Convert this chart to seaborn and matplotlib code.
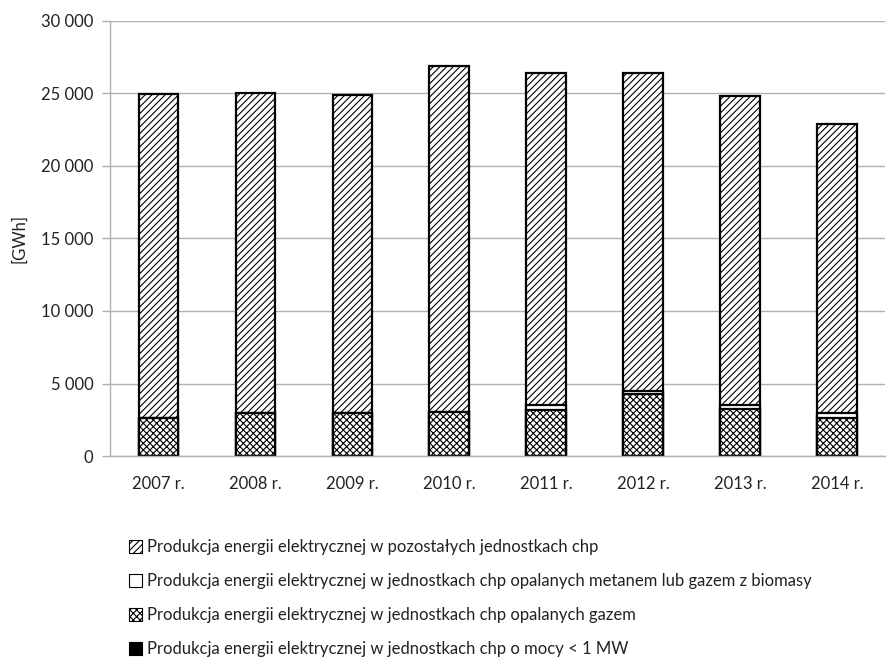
import numpy as np
import pandas as pd
import matplotlib
matplotlib.use("Agg")
import matplotlib.pyplot as plt
from matplotlib.patches import Patch
from matplotlib.ticker import FuncFormatter, MultipleLocator
import seaborn as sns

years = ["2007 r.", "2008 r.", "2009 r.", "2010 r.", "2011 r.", "2012 r.", "2013 r.", "2014 r."]
small_lt1mw = [30, 30, 30, 30, 30, 30, 30, 30]
gas = [2590, 2950, 2950, 3020, 3140, 4220, 3210, 2610]
methane = [0, 0, 0, 0, 340, 250, 270, 340]
others = [22330, 22050, 21910, 23830, 22850, 21860, 21280, 19880]

labels = [
    "Produkcja energii elektrycznej w pozostałych jednostkach chp",
    "Produkcja energii elektrycznej w jednostkach chp opalanych metanem lub gazem z biomasy",
    "Produkcja energii elektrycznej w jednostkach chp opalanych gazem",
    "Produkcja energii elektrycznej w jednostkach chp o mocy < 1 MW",
]

sns.set_style("white")
plt.rcParams["font.family"] = ["Lato", "DejaVu Sans"]
plt.rcParams["hatch.linewidth"] = 0.8
plt.rcParams["hatch.color"] = "black"

c1 = np.array(small_lt1mw)
c2 = c1 + np.array(gas)
c3 = c2 + np.array(methane)
c4 = c3 + np.array(others)

df = pd.DataFrame({"year": years, "c1": c1, "c2": c2, "c3": c3, "c4": c4})

fig = plt.figure(figsize=(8.88, 6.64), dpi=100)
ax = fig.add_axes([0.124, 0.313, 0.873, 0.656])

layers = [("c4", "white", "/////"), ("c3", "white", None), ("c2", "white", "xxxxx"), ("c1", "black", None)]
for col, fc, h in layers:
    sns.barplot(data=df, x="year", y=col, ax=ax, color=fc, width=0.41,
                edgecolor="black", linewidth=1.6, hatch=h, saturation=1, errorbar=None)

ax.set_ylim(0, 30000)
ax.set_xlim(-0.5, 7.5)
ax.yaxis.set_major_locator(MultipleLocator(5000))
ax.yaxis.set_major_formatter(FuncFormatter(lambda v, p: f"{int(v):,}".replace(",", " ")))
ax.grid(axis="y", color="#b0b0b0", linewidth=1.0)
ax.set_axisbelow(True)
for s in ["top", "right"]:
    ax.spines[s].set_visible(False)
for s in ["left", "bottom"]:
    ax.spines[s].set_color("#b0b0b0")
    ax.spines[s].set_linewidth(1.0)
ax.set_xticks(np.arange(-0.5, 8.0, 1.0), minor=True)
ax.tick_params(axis="x", which="minor", length=6, color="#b0b0b0", width=1.0)
ax.tick_params(axis="x", which="major", length=0, labelsize=12, pad=14, colors="#222222")
ax.tick_params(axis="y", which="major", length=6, color="#b0b0b0", width=1.0, labelsize=12, left=True, pad=6, colors="#222222")
ax.set_xlabel("")
ax.set_ylabel("[GWh]", fontsize=12, color="#222222", labelpad=10)

handles = [
    Patch(facecolor="white", edgecolor="black", hatch="/////", linewidth=0.8),
    Patch(facecolor="white", edgecolor="black", linewidth=0.8),
    Patch(facecolor="white", edgecolor="black", hatch="xxxxx", linewidth=0.8),
    Patch(facecolor="black", edgecolor="black", linewidth=0.8),
]
fig.legend(handles, labels, loc="upper left", bbox_to_anchor=(0.145, 0.188),
           frameon=False, fontsize=12, handlelength=0.8, handleheight=0.8,
           handletextpad=0.3, labelspacing=1.08, borderaxespad=0, borderpad=0,
           labelcolor="#222222")

fig.savefig("out.png", dpi=100)
